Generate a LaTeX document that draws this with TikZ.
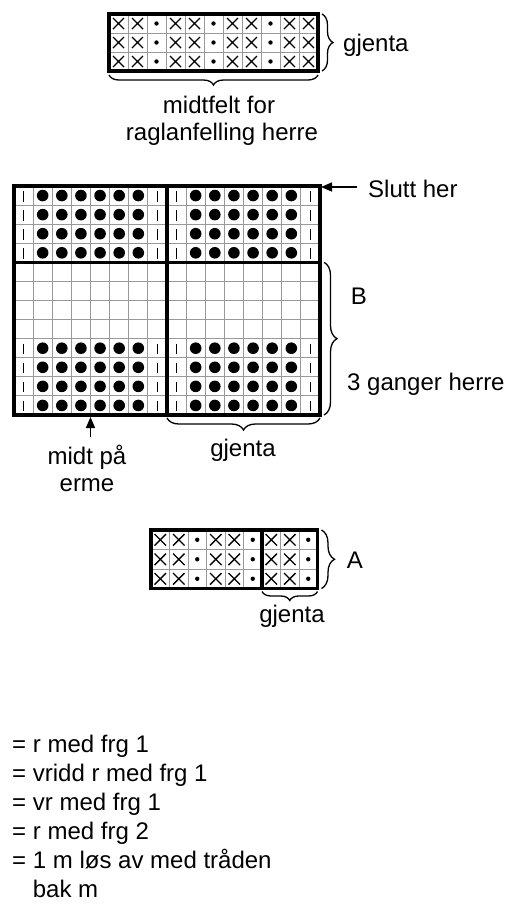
\documentclass[tikz,border=0pt]{standalone}
\usepackage{fontspec}
\setmainfont{Liberation Sans}
\usetikzlibrary{arrows.meta, decorations.pathreplacing}

\begin{document}
\begin{tikzpicture}[x=1pt, y=-1pt,
    cellgrid/.style={draw=gray!80, line width=0.9pt},
    frame/.style={draw=black, line width=3.5pt},
    cross/.style={line width=1.4pt},
    stick/.style={line width=1.8pt},
    brc/.style={decorate, decoration={brace, amplitude=#1}, line width=1.3pt},
    brc/.default=10pt,
    lbl/.style={font=\fontsize{24}{29}\selectfont, inner sep=0pt},
    arr/.style={-{Triangle[length=11pt, width=9pt]}, line width=1.6pt}
  ]
  \useasboundingbox (0,0) rectangle (515,906);

  % midtfelt chart
  \foreach \c in {0,...,11}
    \draw[cellgrid] (109+\c*19,14) -- (109+\c*19,71);
  \foreach \r in {0,...,3}
    \draw[cellgrid] (109,14+\r*19) -- (318,14+\r*19);
  \foreach \r in {0,1,2} {
    \foreach \c in {0,1,3,4,6,7,9,10}
      \draw[cross] (109+\c*19+4,14+\r*19+4) -- ++(11,11)
                   (109+\c*19+15,14+\r*19+4) -- ++(-11,11);
    \foreach \c in {2,5,8}
      \fill (109+\c*19+9.5,14+\r*19+9.5) circle (2.2);
  }
  \draw[frame] (109,14) rectangle (318,71);
  \coordinate (top-ne) at (318,14);
  \coordinate (top-se) at (318,71);
  \coordinate (top-sw) at (109,71);

  \draw[brc=11pt] ([xshift=4pt]top-ne) -- ([xshift=4pt]top-se);
  \draw[brc] ([yshift=-4pt]top-se) -- ([yshift=-4pt]top-sw);
  \node[lbl, anchor=west] (topgj) at (343,45) {gjenta};
  \node[lbl, anchor=base] (midtfelt1) at (219,113) {midtfelt for};
  \node[lbl, anchor=base] (midtfelt2) at (222,140) {raglanfelling herre};

  % big chart
  \foreach \c in {0,...,16}
    \draw[cellgrid] (14+\c*19.125,186) -- (14+\c*19.125,415);
  \foreach \r in {0,...,12}
    \draw[cellgrid] (14,186+\r*19.083) -- (320,186+\r*19.083);
  \foreach \r in {0,1,2,3,8,9,10,11} {
    \foreach \c in {0,7,8,15}
      \draw[stick] (14+\c*19.125+9.56,186+\r*19.083+5) -- ++(0,10.5);
    \foreach \c in {1,...,6}
      \fill (14+\c*19.125+9.56,186+\r*19.083+9.54) circle (5.8);
    \foreach \c in {9,...,14}
      \fill (14+\c*19.125+9.56,186+\r*19.083+9.54) circle (5.8);
  }
  \draw[frame] (14,186) rectangle (320,415);
  \draw[frame] (14,262.3) -- (320,262.3);
  \draw[frame] (167,186) -- (167,415);
  \coordinate (big-ne) at (321,187);
  \coordinate (big-e4) at (320,262.3);
  \coordinate (big-se) at (320,415);
  \coordinate (big-sm) at (167,415);
  \coordinate (big-smid) at (90.5,417);

  \node[lbl, anchor=west] (slutt) at (368,189) {Slutt her};
  \coordinate (slutt-tail) at (357,187);
  \draw[arr] (slutt-tail) -- (big-ne);

  \draw[brc=13pt] ([xshift=4pt]big-e4) -- ([xshift=4pt]big-se);
  \node[lbl] (labB) at (359,296) {B};
  \node[lbl, anchor=base west] (ganger) at (347,390) {3 ganger herre};

  \draw[brc=12pt] ([yshift=-3pt]big-se) -- ([yshift=-3pt]big-sm);
  \node[lbl, anchor=base] (midtgj) at (243,456) {gjenta};

  \coordinate (midt-tail) at (90.5,437);
  \draw[arr] (midt-tail) -- (big-smid);
  \node[lbl, anchor=base] (midtpaa) at (87,464) {midt på};
  \node[lbl, anchor=base] (erme) at (87,491) {erme};

  % A chart
  \foreach \c in {0,...,9}
    \draw[cellgrid] (151+\c*18.5,530) -- (151+\c*18.5,588.5);
  \foreach \r in {0,...,3}
    \draw[cellgrid] (151,530+\r*19.5) -- (317.5,530+\r*19.5);
  \foreach \r in {0,1,2} {
    \foreach \c in {0,1,3,4,6,7}
      \draw[cross] (151+\c*18.5+3.5,530+\r*19.5+4) -- ++(11.5,11.5)
                   (151+\c*18.5+15,530+\r*19.5+4) -- ++(-11.5,11.5);
    \foreach \c in {2,5,8}
      \fill (151+\c*18.5+9.25,530+\r*19.5+9.75) circle (2.2);
  }
  \draw[frame] (151,530) rectangle (317.5,588.5);
  \draw[frame] (262,530) -- (262,588.5);
  \coordinate (a-ne) at (317.5,530);
  \coordinate (a-se) at (317.5,588.5);
  \coordinate (a-sm) at (262,588.5);

  \draw[brc=13pt] ([xshift=4pt]a-ne) -- ([xshift=4pt]a-se);
  \node[lbl] (labA) at (355,560) {A};
  \draw[brc=9pt] ([yshift=-3pt]a-se) -- ([yshift=-3pt]a-sm);
  \node[lbl, anchor=base] (agj) at (292,622) {gjenta};

  % legend
  \node[lbl, anchor=base west] (leg1) at (12,752) {= r med frg 1};
  \node[lbl, anchor=base west] (leg2) at (12,781) {= vridd r med frg 1};
  \node[lbl, anchor=base west] (leg3) at (12,810) {= vr med frg 1};
  \node[lbl, anchor=base west] (leg4) at (12,839) {= r med frg 2};
  \node[lbl, anchor=base west] (leg5) at (12,868) {= 1 m løs av med tråden};
  \node[lbl, anchor=base west] (leg6) at (12,897) {\phantom{= }bak m};
\end{tikzpicture}
\end{document}
